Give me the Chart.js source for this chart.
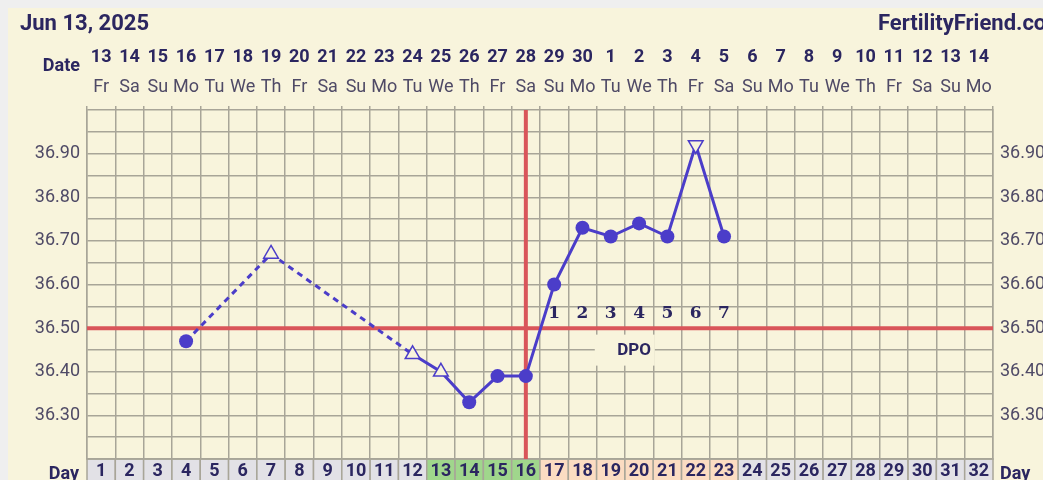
<!DOCTYPE html>
<html>
<head>
<meta charset="utf-8">
<script src="https://cdn.jsdelivr.net/npm/chart.js@4.4.1/dist/chart.umd.min.js"></script>
<style>
  html, body { margin:0; padding:0; background:#efefef; width:1043px; height:480px; overflow:hidden; font-family: Roboto, sans-serif; }
  #panel { position:absolute; left:8px; top:8px; width:1035px; height:472px; background:#f8f4dc; }
  #chart { position:absolute; left:0; top:0; }
  .lbl { position:absolute; font-weight:bold; color:#2b2660; white-space:nowrap; }
</style>
</head>
<body>
<div id="panel"></div>
<canvas id="chart" width="1043" height="480"></canvas>
<div class="lbl" style="left:20px;top:10px;font-size:22px;line-height:26px;">Jun 13, 2025</div>
<div class="lbl" style="left:878px;top:10px;font-size:22px;line-height:26px;">FertilityFriend.com</div>
<div class="lbl" style="left:0;width:80px;text-align:right;top:54px;font-size:18px;line-height:22px;">Date</div>
<div class="lbl" style="left:0;width:79px;text-align:right;top:462px;font-size:18px;line-height:22px;">Day</div>
<div class="lbl" style="left:1000px;top:462px;font-size:18px;line-height:22px;">Day</div>
<script>
// cycle days, calendar dates and weekdays
var dayLabels = ['1','2','3','4','5','6','7','8','9','10','11','12','13','14','15','16',
                 '17','18','19','20','21','22','23','24','25','26','27','28','29','30','31','32'];
var dates = ['13','14','15','16','17','18','19','20','21','22','23','24','25','26','27','28','29','30',
             '1','2','3','4','5','6','7','8','9','10','11','12','13','14'];
var weekdays = ['Fr','Sa','Su','Mo','Tu','We','Th','Fr','Sa','Su','Mo','Tu','We','Th','Fr','Sa',
                'Su','Mo','Tu','We','Th','Fr','Sa','Su','Mo','Tu','We','Th','Fr','Sa','Su','Mo'];

// temperatures (null = no reading)
var temps = [null, null, null, 36.47, null, null, 36.67, null, null, null, null, 36.44,
             36.40, 36.33, 36.39, 36.39, 36.60, 36.73, 36.71, 36.74, 36.71, 36.92, 36.71,
             null, null, null, null, null, null, null, null, null];
// marker kind per day: dot = normal, up/down = open triangles
var marks = ['', '', '', 'dot', '', '', 'up', '', '', '', '', 'up',
             'up', 'dot', 'dot', 'dot', 'dot', 'dot', 'dot', 'dot', 'dot', 'down', 'dot',
             '', '', '', '', '', '', '', '', ''];

var fertileDays = [13, 14, 15, 16];
var lutealDays = [17, 18, 19, 20, 21, 22, 23];
var coverline = 36.50;
var ovulationDay = 16;
var dpoLabels = ['1','2','3','4','5','6','7'];

var LINE = '#4b3dc9';
var RED = '#d9555a';
var GRID = '#a8a598';
var CREAM = '#f8f4dc';
var NAVY = '#2b2660';
var GREYTXT = '#4f4a66';

Chart.defaults.font.family = 'Roboto';

function cellColor(day) {
  if (fertileDays.indexOf(day) >= 0) return '#a0d68c';
  if (lutealDays.indexOf(day) >= 0) return '#fbdcc2';
  return '#e2e1e6';
}

function tempLabel(v) {
  var c = Math.round(v * 100);
  if (c % 10 === 0 && c > 3620 && c < 3700) return v.toFixed(2);
  return '';
}

var chartDecor = {
  id: 'chartDecor',
  beforeDraw: function(chart) {
    var ctx = chart.ctx, area = chart.chartArea, x = chart.scales.x;
    var w = x.width / dayLabels.length;
    ctx.save();
    dayLabels.forEach(function(d, i) {
      var cx = x.getPixelForValue(i);
      ctx.fillStyle = cellColor(+d);
      ctx.fillRect(cx - w / 2, area.bottom, w, chart.height - area.bottom);
      ctx.strokeStyle = GRID;
      ctx.lineWidth = 1.5;
      ctx.strokeRect(cx - w / 2, area.bottom, w, chart.height - area.bottom + 5);
    });
    ctx.restore();
  },
  beforeDatasetsDraw: function(chart) {
    var ctx = chart.ctx, area = chart.chartArea, x = chart.scales.x, y = chart.scales.y;
    var cy = y.getPixelForValue(coverline);
    ctx.save();
    // DPO label box
    var bx = x.getPixelForValue(18) - 16;
    ctx.fillStyle = CREAM;
    ctx.fillRect(bx, cy + 6.5, 60, 31);
    ctx.fillStyle = NAVY;
    ctx.font = 'bold 17px Roboto';
    ctx.textAlign = 'center';
    ctx.textBaseline = 'middle';
    ctx.fillText('DPO', x.getPixelForValue(19) - 5, cy + 23);
    // coverline and ovulation line
    ctx.strokeStyle = RED;
    ctx.lineWidth = 4;
    ctx.beginPath();
    ctx.moveTo(area.left, cy);
    ctx.lineTo(area.right, cy);
    var ox = x.getPixelForValue(ovulationDay - 1);
    ctx.moveTo(ox, area.top);
    ctx.lineTo(ox, area.bottom);
    ctx.stroke();
    // days past ovulation numbers
    ctx.font = 'bold 17px "DejaVu Serif"';
    dpoLabels.forEach(function(t, i) {
      ctx.fillText(t, x.getPixelForValue(ovulationDay + i), cy - 15);
    });
    ctx.restore();
  }
};

new Chart(document.getElementById('chart'), {
  type: 'line',
  data: {
    labels: dayLabels,
    datasets: [{
      data: temps,
      borderColor: LINE,
      borderWidth: 3,
      spanGaps: true,
      tension: 0,
      pointStyle: function(c) { return marks[c.dataIndex] === 'dot' ? 'circle' : 'triangle'; },
      pointRotation: function(c) { return marks[c.dataIndex] === 'down' ? 180 : 0; },
      pointRadius: function(c) { return marks[c.dataIndex] === 'dot' ? 7 : 8.5; },
      pointBackgroundColor: function(c) { return marks[c.dataIndex] === 'dot' ? LINE : CREAM; },
      pointBorderColor: LINE,
      pointBorderWidth: function(c) { return marks[c.dataIndex] === 'dot' ? 0 : 1.5; },
      segment: {
        // dashed across days without a reading
        borderDash: function(c) { return (c.p0.skip || c.p1.skip) ? [6, 5] : undefined; }
      }
    }]
  },
  options: {
    responsive: false,
    animation: false,
    devicePixelRatio: 1,
    layout: { padding: 0 },
    plugins: { legend: { display: false }, tooltip: { enabled: false } },
    scales: {
      x: {
        type: 'category', position: 'bottom', offset: true,
        grid: { offset: true, color: GRID, lineWidth: 1.5, drawTicks: false },
        border: { color: GRID, width: 1.5 },
        ticks: { autoSkip: false, maxRotation: 0, padding: 2, color: NAVY, font: { size: 18, weight: 'bold' } },
        afterFit: function(s) { s.height = 21; }
      },
      xDow: {
        type: 'category', labels: weekdays, position: 'top', offset: true, weight: 0,
        grid: { offset: true, drawOnChartArea: false, drawTicks: true, tickLength: 4, color: GRID, lineWidth: 1.5 },
        border: { display: false },
        ticks: { autoSkip: false, maxRotation: 0, padding: 8, color: GREYTXT, font: { size: 18 } },
        afterFit: function(s) { s.height = 38; }
      },
      xDate: {
        type: 'category', labels: dates, position: 'top', offset: true, weight: 1,
        grid: { display: false, drawTicks: false },
        border: { display: false },
        ticks: { autoSkip: false, maxRotation: 0, padding: 4, color: NAVY, font: { size: 18, weight: 'bold' } },
        afterFit: function(s) { s.height = 72; }
      },
      y: {
        position: 'left', min: 36.2, max: 37.0,
        grid: { color: GRID, lineWidth: 1.5, drawTicks: false },
        border: { color: GRID, width: 1.5 },
        ticks: { stepSize: 0.05, autoSkip: false, padding: 7, color: GREYTXT, font: { size: 18 }, callback: tempLabel },
        afterFit: function(s) { s.width = 87; }
      },
      y2: {
        position: 'right', min: 36.2, max: 37.0,
        grid: { drawOnChartArea: false, drawTicks: false },
        border: { color: GRID, width: 1.5 },
        ticks: { stepSize: 0.05, autoSkip: false, padding: 7, color: GREYTXT, font: { size: 18 }, callback: tempLabel },
        afterFit: function(s) { s.width = 50; }
      }
    }
  },
  plugins: [chartDecor]
});
</script>
</body>
</html>
